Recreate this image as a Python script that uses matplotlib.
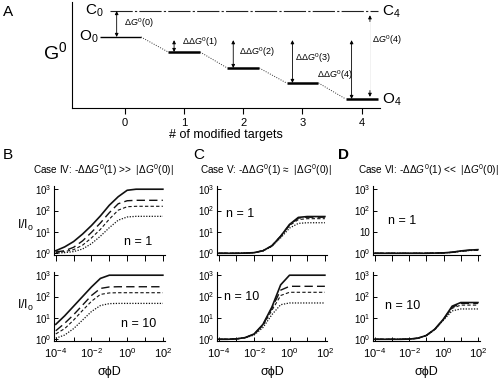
import numpy as np
import matplotlib
matplotlib.use('Agg')
import matplotlib.pyplot as plt

plt.rcParams['font.family'] = ['Liberation Sans', 'DejaVu Sans']
plt.rcParams['mathtext.fontset'] = 'custom'
plt.rcParams['mathtext.rm'] = 'Liberation Sans'
plt.rcParams['mathtext.it'] = 'Liberation Sans:italic'

# --- panel A data (free energy levels, arbitrary units) ---
targets = [0, 1, 2, 3, 4]
open_levels = [6.7, 5.28, 3.77, 2.36, 0.85]
closed_level = 9.15
dd_labels = ['$\\Delta\\Delta G^0(1)$', '$\\Delta\\Delta G^0(2)$',
             '$\\Delta\\Delta G^0(3)$', '$\\Delta\\Delta G^0(4)$']

# --- panels B-D data: log10(sigma*phi*D) grid and log10(I/I0) curves ---
logx = [-4, -3.5, -3, -2.5, -2, -1.5, -1, -0.5, 0, 0.5, 1, 1.5, 2]

b1_solid = [0.12, 0.30, 0.55, 0.90, 1.30, 1.75, 2.25, 2.65, 2.95, 3.00, 3.00, 3.00, 3.00]
b1_long = [0.06, 0.12, 0.28, 0.58, 0.98, 1.42, 1.90, 2.32, 2.46, 2.48, 2.48, 2.48, 2.48]
b1_medium = [0.04, 0.08, 0.17, 0.38, 0.72, 1.12, 1.60, 2.02, 2.18, 2.20, 2.20, 2.20, 2.20]
b1_dotted = [0.01, 0.03, 0.08, 0.20, 0.45, 0.80, 1.20, 1.55, 1.70, 1.73, 1.73, 1.73, 1.73]

b10_solid = [0.70, 1.10, 1.55, 2.00, 2.45, 2.85, 3.00, 3.00, 3.00, 3.00, 3.00, 3.00, 3.00]
b10_long = [0.40, 0.75, 1.15, 1.60, 2.05, 2.38, 2.45, 2.46, 2.46, 2.46, 2.46, 2.46, 2.46]
b10_medium = [0.25, 0.50, 0.90, 1.35, 1.78, 2.10, 2.17, 2.18, 2.18, 2.18, 2.18, 2.18, 2.18]
b10_dotted = [0.05, 0.20, 0.50, 0.90, 1.30, 1.58, 1.67, 1.68, 1.68, 1.68, 1.68, 1.68, 1.68]

c1_solid = [0, 0, 0, 0.01, 0.03, 0.12, 0.35, 0.80, 1.35, 1.68, 1.72, 1.72, 1.72]
c1_long = [0, 0, 0, 0.01, 0.03, 0.12, 0.35, 0.80, 1.33, 1.65, 1.69, 1.69, 1.69]
c1_medium = [0, 0, 0, 0.01, 0.03, 0.12, 0.34, 0.78, 1.30, 1.58, 1.62, 1.62, 1.62]
c1_dotted = [0, 0, 0, 0.01, 0.03, 0.11, 0.32, 0.72, 1.18, 1.40, 1.43, 1.43, 1.43]

c10_solid = [0, 0, 0.02, 0.08, 0.25, 0.70, 1.50, 2.55, 3.00, 3.00, 3.00, 3.00, 3.00]
c10_long = [0, 0, 0.02, 0.08, 0.24, 0.68, 1.45, 2.30, 2.48, 2.48, 2.48, 2.48, 2.48]
c10_medium = [0, 0, 0.02, 0.08, 0.23, 0.65, 1.35, 2.05, 2.20, 2.20, 2.20, 2.20, 2.20]
c10_dotted = [0, 0, 0.02, 0.07, 0.20, 0.55, 1.15, 1.62, 1.70, 1.70, 1.70, 1.70, 1.70]

d1_solid = [0, 0, 0, 0, 0, 0, 0, 0.01, 0.02, 0.05, 0.11, 0.15, 0.17]
d1_long = [0, 0, 0, 0, 0, 0, 0, 0.01, 0.02, 0.05, 0.10, 0.14, 0.16]
d1_medium = [0, 0, 0, 0, 0, 0, 0, 0.01, 0.02, 0.04, 0.10, 0.14, 0.15]
d1_dotted = [0, 0, 0, 0, 0, 0, 0, 0.01, 0.02, 0.04, 0.09, 0.13, 0.14]

d10_solid = [0, 0, 0, 0, 0.01, 0.05, 0.18, 0.48, 0.95, 1.55, 1.72, 1.72, 1.72]
d10_long = [0, 0, 0, 0, 0.01, 0.05, 0.18, 0.48, 0.94, 1.50, 1.68, 1.68, 1.68]
d10_medium = [0, 0, 0, 0, 0.01, 0.05, 0.18, 0.47, 0.93, 1.45, 1.60, 1.60, 1.60]
d10_dotted = [0, 0, 0, 0, 0.01, 0.05, 0.17, 0.45, 0.90, 1.33, 1.42, 1.42, 1.42]

ytick_labels = ['$10^0$', '$10^1$', '$10^2$', '$10^3$']
ytick_labels_d1 = ['$10^0$', '10', '$10^2$', '$10^3$']

fig = plt.figure(figsize=(5, 3.86), dpi=100)


def px_axes(l, t, r, b):
    return fig.add_axes([l / 500, 1 - b / 386, (r - l) / 500, (b - t) / 386])


# ---------------- panel A ----------------
axA = px_axes(72, 2, 380, 108)
axA.set_xlim(-0.895, 4.31)
axA.set_ylim(0, 10)
for s in ['top', 'right']:
    axA.spines[s].set_visible(False)
axA.set_yticks([])
axA.set_xticks(targets)
axA.tick_params(axis='x', direction='out', length=4, labelsize=8, pad=3)
axA.set_xlabel('# of modified targets', fontsize=9, labelpad=1)

k = 'k'
axA.plot([-0.25, 4.27], [closed_level, closed_level], color='#222222', lw=0.8,
         dashes=(20, 2, 2, 2))
for i, (t, lev) in enumerate(zip(targets, open_levels)):
    left = t - 0.42 if i == 0 else t - 0.27
    axA.plot([left, t + 0.27], [lev, lev], color=k, lw=1.0 if i == 0 else 1.8,
             solid_capstyle='butt')
    if i > 0:
        axA.plot([targets[i - 1] + 0.27, t - 0.27], [open_levels[i - 1], lev],
                 color='#333333', lw=0.7, ls=(0, (1, 1.5)))

arr = dict(arrowstyle='<|-|>', color=k, lw=0.6, mutation_scale=5,
           shrinkA=0, shrinkB=0)
axA.annotate('', xy=(-0.14, open_levels[0]), xytext=(-0.14, closed_level),
             arrowprops=arr)
for t, lev in zip(targets[1:], open_levels[1:]):
    axA.annotate('', xy=(t - 0.17, lev), xytext=(t - 0.17, open_levels[0] - 0.3),
                 arrowprops=arr)
# Delta G0(4): only the two arrow heads are visible in the original
head = dict(arrowstyle='-|>', color=k, lw=0.6, mutation_scale=5,
            shrinkA=0, shrinkB=0)
axA.annotate('', xy=(4.14, closed_level - 0.4), xytext=(4.14, closed_level - 1.0),
             arrowprops=head)
axA.annotate('', xy=(4.14, open_levels[4] + 0.2), xytext=(4.14, open_levels[4] + 0.8),
             arrowprops=head)
axA.plot([4.14, 4.14], [open_levels[4] + 0.8, closed_level - 1.0],
         color='#e8e8e8', lw=0.4)

axA.text(-0.02, 8.0, '$\\Delta G^0(0)$', fontsize=6.5, va='center')
dd_pos = [(0.97, 6.2), (1.93, 5.3), (2.87, 4.7), (3.24, 3.1)]
for (x, y), lab in zip(dd_pos, dd_labels):
    axA.text(x, y, lab, fontsize=6.5, va='center')
axA.text(4.17, 6.4, '$\\Delta G^0(4)$', fontsize=6.5, va='center')

axA.text(-0.36, closed_level, 'C$_0$', fontsize=11, ha='right', va='center')
axA.text(-0.45, open_levels[0], 'O$_0$', fontsize=11, ha='right', va='center')
axA.text(4.34, closed_level - 0.1, 'C$_4$', fontsize=11, ha='left', va='center',
         clip_on=False)
axA.text(4.34, open_levels[4] - 0.1, 'O$_4$', fontsize=11, ha='left', va='center',
         clip_on=False)
fig.text(55 / 500, 1 - 52 / 386, 'G$^0$', fontsize=14, ha='center', va='center')
fig.text(3 / 500, 1 - 12 / 386, 'A', fontsize=11, ha='left', va='center')

# ---------------- panels B-D ----------------
styles = [dict(lw=1.2, ls='-'),
          dict(lw=1.0, dashes=(6, 3)),
          dict(lw=0.8, dashes=(3, 2)),
          dict(lw=0.9, dashes=(1, 1.2))]

panels = [
    (54, 165, [b1_solid, b1_long, b1_medium, b1_dotted],
     [b10_solid, b10_long, b10_medium, b10_dotted], (0.6, 0.55), (0.63, 0.7)),
    (217, 327, [c1_solid, c1_long, c1_medium, c1_dotted],
     [c10_solid, c10_long, c10_medium, c10_dotted], (-2.8, 1.84), (-2.7, 1.97)),
    (373, 480, [d1_solid, d1_long, d1_medium, d1_dotted],
     [d10_solid, d10_long, d10_medium, d10_dotted], (-2.4, 1.5), (-2.4, 1.54)),
]
xv = 10 ** np.array(logx)

for pi, (l, r, top_curves, bot_curves, pos1, pos10) in enumerate(panels):
    for row, (t, b, curves, pos, ntext) in enumerate([
            (186, 255, top_curves, pos1, 'n = 1'),
            (272, 341, bot_curves, pos10, 'n = 10')]):
        ax = px_axes(l, t, r, b)
        for c, st in zip(curves, styles):
            ax.plot(xv, 10 ** np.array(c), color='#111111', **st)
        ax.set_xscale('log')
        ax.set_yscale('log')
        ax.set_xlim(10 ** -4.1, 10 ** 2.12)
        ax.set_ylim(10 ** -0.08, 10 ** 3.15)
        for s in ['top', 'right']:
            ax.spines[s].set_visible(False)
        for s in ['left', 'bottom']:
            ax.spines[s].set_linewidth(0.8)
        ax.set_yticks([1, 10, 100, 1000])
        ax.set_yticklabels(ytick_labels_d1 if (pi == 2 and row == 0) else ytick_labels)
        ax.yaxis.set_minor_locator(matplotlib.ticker.NullLocator())
        ax.xaxis.set_minor_locator(matplotlib.ticker.NullLocator())
        ax.set_xticks([10.0 ** e for e in range(-4, 3)])
        ax.tick_params(axis='y', direction='in', length=3, labelsize=7, pad=2, width=0.7)
        if row == 0:
            ax.tick_params(axis='x', direction='out', length=4, labelbottom=False, width=0.7)
        else:
            ax.tick_params(axis='x', direction='in', length=3, labelsize=8, pad=4, width=0.7)
            ax.set_xticklabels(['$10^{-4}$', '', '$10^{-2}$', '', '$10^0$', '', '$10^2$'])
            ax.set_xlabel('σϕD', fontsize=9, labelpad=4)
        ax.text(10 ** pos[0], 10 ** pos[1], ntext, fontsize=9, ha='center', va='center')

fig.text(17 / 500, 1 - 225 / 386, 'I/I$_{\\rm o}$', fontsize=9, ha='left', va='center')
fig.text(17 / 500, 1 - 305 / 386, 'I/I$_{\\rm o}$', fontsize=9, ha='left', va='center')

fig.text(3 / 500, 1 - 155 / 386, 'B', fontsize=11, ha='left', va='center')
fig.text(193 / 500, 1 - 155 / 386, 'C', fontsize=11, ha='left', va='center')
fig.text(338 / 500, 1 - 155 / 386, 'D', fontsize=11, ha='left', va='center', weight='bold')

case_txt = [
    (33, 'Case IV: -$\\Delta\\Delta G^0(1)$ >>  |$\\Delta G^0(0)$|'),
    (200, 'Case V: -$\\Delta\\Delta G^0(1)$ ≈  |$\\Delta G^0(0)$|'),
    (358, 'Case VI: -$\\Delta\\Delta G^0(1)$ <<  |$\\Delta G^0(0)$|'),
]
for x, s in case_txt:
    fig.text(x / 500, 1 - 170 / 386, s, fontsize=7.2, ha='left', va='center')

fig.savefig('out.png', dpi=100)
